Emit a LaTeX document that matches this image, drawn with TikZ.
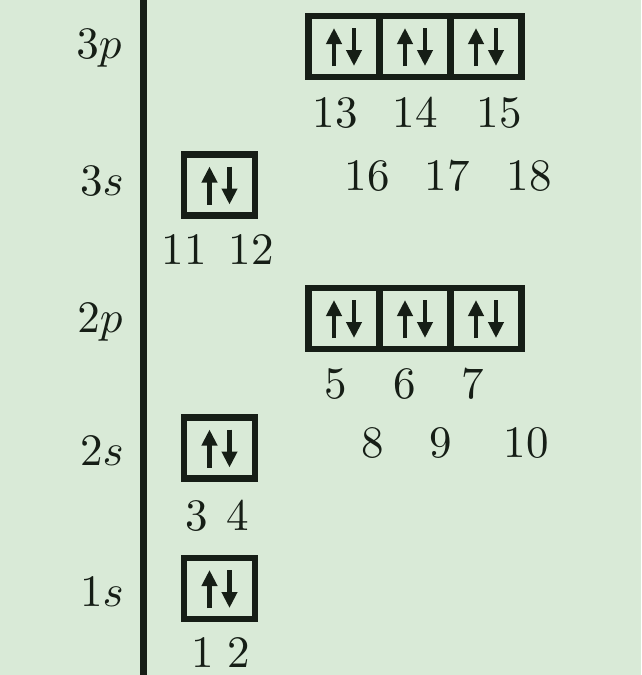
\documentclass[tikz,border=0pt]{standalone}
\usepackage{graphicx}
\usetikzlibrary{arrows.meta}
\definecolor{bg}{RGB}{217,234,215}
\definecolor{ink}{RGB}{22,30,22}
\newcommand{\bigtxt}[1]{\scalebox{4.5}{\fontsize{10}{12}\selectfont #1}}
\begin{document}
\begin{tikzpicture}[x=1pt,y=-1pt,
  every node/.style={text=ink,inner sep=0pt},
  cell/.style={draw=ink,line width=6.5pt,minimum width=71pt,minimum height=61pt,fill=none},
  spin/.style={draw=ink,line width=4.5pt,-{Triangle[length=16pt,width=15pt]}},
  num/.style={anchor=base},
  lab/.style={anchor=base}]
\fill[bg] (0,0) rectangle (641,675);
\useasboundingbox (0,0) rectangle (641,675);
% axis
\draw[ink,line width=6.5pt] (143.5,0) -- (143.5,675);
% labels
\node[lab] (l3p) at (99,58) {\bigtxt{$3p$}};
\node[lab] (l3s) at (102,195) {\bigtxt{$3s$}};
\node[lab] (l2p) at (100,332) {\bigtxt{$2p$}};
\node[lab] (l2s) at (102,465) {\bigtxt{$2s$}};
\node[lab] (l1s) at (102,606) {\bigtxt{$1s$}};
% cells
\newcommand{\pair}[1]{%
  \draw[spin] ([shift={(-10,19.5)}]#1.center) -- ([shift={(-10,-18.5)}]#1.center);
  \draw[spin] ([shift={(10,-18.5)}]#1.center) -- ([shift={(10,19.5)}]#1.center);}
\node[cell] (p3a) at (344,46.5) {};
\node[cell] (p3b) at (415,46.5) {};
\node[cell] (p3c) at (486,46.5) {};
\node[cell] (s3) at (219.5,185) {};
\node[cell] (p2a) at (344,318.5) {};
\node[cell] (p2b) at (415,318.5) {};
\node[cell] (p2c) at (486,318.5) {};
\node[cell] (s2) at (219.5,448) {};
\node[cell] (s1) at (219.5,588.5) {};
\foreach \c in {p3a,p3b,p3c,s3,p2a,p2b,p2c,s2,s1} {\pair{\c}}
% numbers
\node[num] (n13) at (335,127) {\bigtxt{13}};
\node[num] (n14) at (415,127) {\bigtxt{14}};
\node[num] (n15) at (499,127) {\bigtxt{15}};
\node[num] (n16) at (367,190) {\bigtxt{16}};
\node[num] (n17) at (447,190) {\bigtxt{17}};
\node[num] (n18) at (529,190) {\bigtxt{18}};
\node[num] (n11) at (184,264) {\bigtxt{11}};
\node[num] (n12) at (251,264) {\bigtxt{12}};
\node[num] (n5) at (336,398) {\bigtxt{5}};
\node[num] (n6) at (405,398) {\bigtxt{6}};
\node[num] (n7) at (473,398) {\bigtxt{7}};
\node[num] (n8) at (373,457) {\bigtxt{8}};
\node[num] (n9) at (441,457) {\bigtxt{9}};
\node[num] (n10) at (526,457) {\bigtxt{10}};
\node[num] (n3) at (197,530) {\bigtxt{3}};
\node[num] (n4) at (238,530) {\bigtxt{4}};
\node[num] (n1) at (203,667) {\bigtxt{1}};
\node[num] (n2) at (239,667) {\bigtxt{2}};
\end{tikzpicture}
\end{document}
